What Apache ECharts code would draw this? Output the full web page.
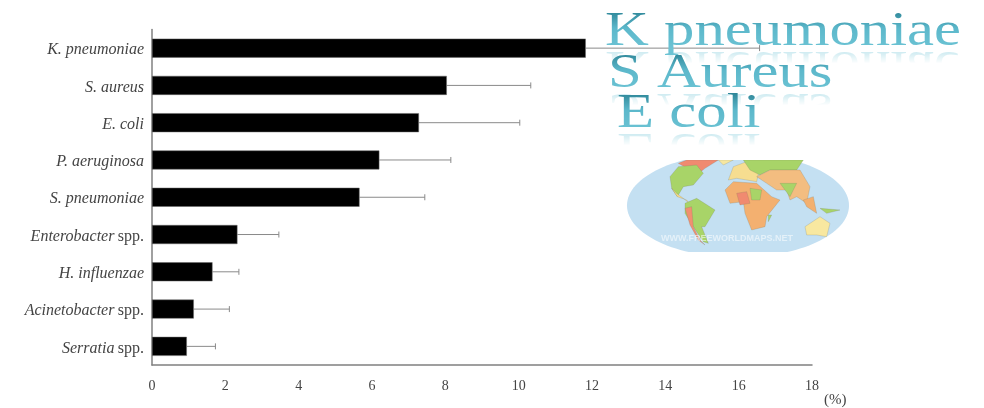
<!DOCTYPE html>
<html><head><meta charset="utf-8">
<style>html,body{margin:0;padding:0;background:#fff}#c{width:984px;height:408px}</style>
<script src="https://cdn.jsdelivr.net/npm/echarts@6/dist/echarts.min.js"></script>
</head><body><div id="c"></div>
<script>
const categories = ['K. pneumoniae','S. aureus','E. coli','P. aeruginosa','S. pneumoniae','Enterobacter spp.','H. influenzae','Acinetobacter spp.','Serratia spp.'];
const values = [11.83,8.04,7.28,6.2,5.66,2.33,1.65,1.14,0.95];
const errorEnds = [16.57,10.33,10.03,8.15,7.44,3.46,2.37,2.11,1.73];
const headlines = [['K pneumoniae',605,48],['S Aureus',608,90],['E coli',617,130]];
const land = [
 ['#f08a70',[[265,490],[290,480],[385,480],[345,505],[320,525],[300,510]]],
 ['#a8d468',[[240,530],[265,500],[320,495],[340,520],[310,555],[280,560],[262,590],[245,565]]],
 ['#f6e7a0',[[385,480],[430,480],[400,495]]],
 ['#f6d98c',[[245,565],[262,590],[290,600],[300,612],[280,595],[262,582]]],
 ['#a8d468',[[285,610],[320,595],[375,630],[345,680],[335,680],[355,730],[340,725],[310,680],[285,640]]],
 ['#f09070',[[285,625],[305,620],[310,680],[330,720],[345,735],[325,720],[300,675]]],
 ['#f3b070',[[405,570],[430,545],[500,550],[545,590],[570,600],[530,650],[525,680],[485,690],[465,640],[460,605],[420,610]]],
 ['#f08a70',[[440,580],[470,575],[480,610],[450,615]]],
 ['#a8d468',[[480,565],[515,570],[510,600],[485,600]]],
 ['#f6dd90',[[415,540],[430,500],[470,485],[510,500],[500,545],[440,535]]],
 ['#a8d468',[[460,480],[640,480],[620,510],[540,510],[510,525],[480,510]]],
 ['#f3bd80',[[500,530],[540,510],[630,510],[660,560],[650,610],[620,590],[600,600],[590,570],[560,570],[530,550]]],
 ['#a8d468',[[570,550],[620,550],[600,590]]],
 ['#f3b070',[[640,600],[670,590],[680,640],[650,620]]],
 ['#a8d468',[[690,625],[750,630],[710,640]]],
 ['#f8e8a0',[[645,680],[690,650],[720,670],[710,710],[680,705],[650,705]]],
 ['#a8d468',[[535,645],[545,645],[535,665]]]
];
const graphics = [];
graphics.push({type:'ellipse',shape:{cx:738,cy:205.5,rx:111,ry:52},style:{fill:'#c4e0f2'},z:20});
land.forEach(([c,p])=>graphics.push({type:'polygon',shape:{points:p.map(([x,y])=>[590+x/3,y/3])},style:{fill:c,stroke:'rgba(110,110,90,.5)',lineWidth:.4},z:21}));
graphics.push({type:'rect',shape:{x:620,y:145,width:240,height:15},style:{fill:'#fff'},z:22});
graphics.push({type:'rect',shape:{x:620,y:252,width:240,height:14},style:{fill:'#fff'},z:22});
graphics.push({type:'text',x:661,y:234,style:{text:'WWW.FREEWORLDMAPS.NET',font:'bold 9px "Liberation Sans"',fill:'rgba(255,255,255,.55)'},z:23});
graphics.push({type:'text',x:824,y:393,style:{text:'(%)',font:'15px "Liberation Serif"',fill:'#444'},z:10});

const chart = echarts.init(document.getElementById('c'),null,{renderer:'canvas'});
chart.setOption({
  animation:false,
  grid:{left:152,right:172,top:29.5,bottom:43},
  xAxis:{type:'value',min:0,max:18,interval:2,splitLine:{show:false},axisTick:{show:false},
    axisLine:{show:true,lineStyle:{color:'#808080',width:1.5}},
    axisLabel:{margin:14,color:'#444',fontFamily:'Liberation Serif',fontSize:14}},
  yAxis:{type:'category',inverse:true,data:categories,axisTick:{show:false},
    axisLine:{show:true,lineStyle:{color:'#808080',width:1.5}},
    axisLabel:{margin:8,color:'#444',
      formatter:v=>{const m=v.match(/^(.*) (spp\.)$/);return m?`{i|${m[1]}} {n|${m[2]}}`:`{i|${v}}`;},
      rich:{i:{fontFamily:'Liberation Serif',fontStyle:'italic',fontSize:16,color:'#444',padding:[4,0,0,0]},
            n:{fontFamily:'Liberation Serif',fontSize:16,color:'#444',padding:[4,0,0,0]}}}},
  series:[
   {type:'custom',z:1,data:categories.map((c,i)=>[i,values[i],errorEnds[i]]),
    encode:{x:[1,2],y:0},
    renderItem:(p,api)=>{
      const a=api.coord([api.value(1),api.value(0)]),b=api.coord([api.value(2),api.value(0)]);
      const st={stroke:'#8a8a8a',lineWidth:1};
      return {type:'group',children:[
        {type:'line',shape:{x1:a[0],y1:a[1],x2:b[0],y2:b[1]},style:st},
        {type:'line',shape:{x1:b[0],y1:b[1]-3,x2:b[0],y2:b[1]+3},style:st}]};
    }},
   {type:'bar',z:2,data:values,barWidth:19,itemStyle:{color:'#000',borderColor:'#666',borderWidth:.5}}
  ],
  graphic:{elements:graphics}
});
// Headlines: vertical gradient and fading mirror image, painted as one-pixel clipped bands of real text.
const zr = chart.getZr();
const G = echarts.graphic;
const FS = 56, LOCAL_BASE = 46, SQUASH = 0.86, WIDEN = 1.085;
const lerp=(a,b,t)=>a.map((v,i)=>Math.round(v+(b[i]-v)*t));
function faceColor(t){ // t: 0 at cap top, 1 at baseline
  const c = t<.45 ? lerp([47,135,153],[92,184,203],t/.45) : lerp([92,184,203],[108,195,212],(t-.45)/.55);
  return `rgb(${c.join(',')})`;
}
function band(t,x,y0,h,fill,textProps,z){
  const g=new G.Group();
  g.add(new G.Text(Object.assign({style:{text:t,font:FS+'px "Liberation Serif"',fill:fill},silent:true,z:z,scaleX:WIDEN},textProps)));
  g.setClipPath(new G.Rect({shape:{x:x-5,y:y0,width:380,height:h}}));
  zr.add(g);
}
headlines.forEach(([t,x,base])=>{
  const d = LOCAL_BASE*SQUASH;
  for(let r=0;r<14;r++){
    const a=.4*(1-r/14);
    band(t,x,base+r+1,1,`rgba(108,195,212,${a.toFixed(3)})`,{x:x,y:base+1+d,scaleY:-SQUASH},100);
  }
  for(let r=-46;r<=14;r++){
    const t01=Math.max(0,Math.min(1,(r+37)/37));
    band(t,x,base+r,1,faceColor(t01),{x:x,y:base-d,scaleY:SQUASH},101);
  }
});
</script></body></html>
